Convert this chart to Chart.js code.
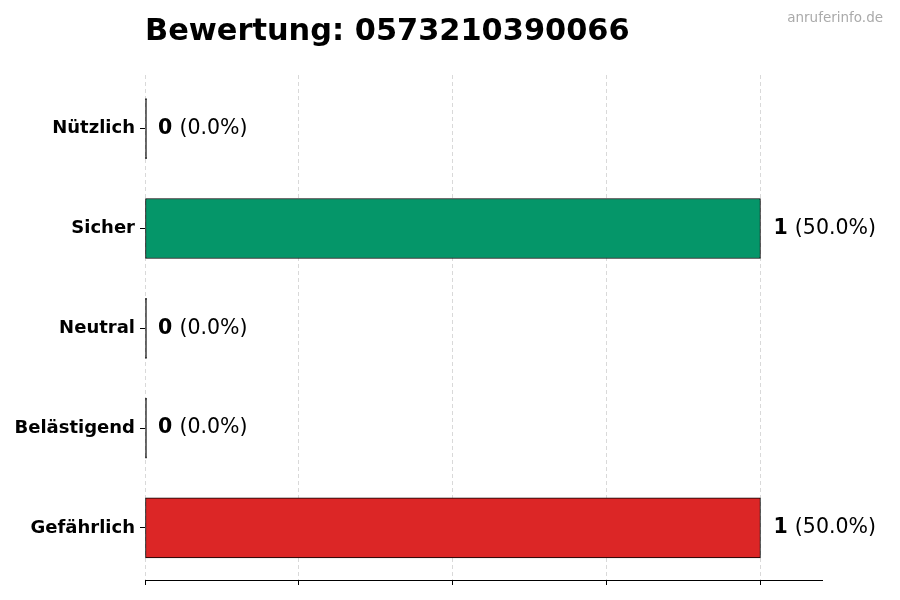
<!DOCTYPE html>
<html>
<head>
<meta charset="utf-8">
<script src="https://cdn.jsdelivr.net/npm/chart.js@4"></script>
<style>
  html, body { margin: 0; padding: 0; background: #fff; }
</style>
</head>
<body>
<canvas id="barChart" width="900" height="600"></canvas>
<script>
const titleText = 'Bewertung: 0573210390066';
const categories = ['Nützlich', 'Sicher', 'Neutral', 'Belästigend', 'Gefährlich'];
const counts = [0, 1, 0, 0, 1];
const barColors = ['#16a34a', '#059669', '#9ca3af', '#f59e0b', '#dc2626'];
const gridTicks = [0, 0.25, 0.5, 0.75, 1];

const total = counts.reduce((a, b) => a + b, 0);

// Title, watermark and value labels
const labelsPlugin = {
  id: 'labels',
  afterDatasetsDraw(chart) {
    const ctx = chart.ctx;
    const meta = chart.getDatasetMeta(0);
    ctx.save();
    ctx.textBaseline = 'middle';
    meta.data.forEach((bar, i) => {
      const pct = total ? (counts[i] / total * 100).toFixed(1) : '0.0';
      const x0 = chart.scales.x.getPixelForValue(counts[i]) + 13;
      ctx.font = 'bold 20.5px "DejaVu Sans"';
      ctx.fillStyle = '#000';
      ctx.textAlign = 'left';
      const v = String(counts[i]);
      ctx.fillText(v, x0, bar.y);
      const w = ctx.measureText(v + ' ').width;
      ctx.font = '20.5px "DejaVu Sans"';
      ctx.fillText('(' + pct + '%)', x0 + w, bar.y);
    });
    ctx.restore();
  },
  afterDraw(chart) {
    const ctx = chart.ctx;
    ctx.save();
    ctx.textBaseline = 'alphabetic';
    ctx.textAlign = 'left';
    ctx.fillStyle = '#000';
    ctx.font = 'bold 30.4px "DejaVu Sans"';
    ctx.fillText(titleText, 145, 40);
    ctx.textAlign = 'right';
    ctx.fillStyle = '#aaa';
    ctx.font = '13.5px "DejaVu Sans"';
    ctx.fillText('anruferinfo.de', 883, 22);
    ctx.restore();
  }
};

new Chart(document.getElementById('barChart'), {
  type: 'bar',
  data: {
    datasets: [{
      data: counts.map((v, i) => ({ x: v, y: i })),
      backgroundColor: c => counts[c.dataIndex] ? barColors[c.dataIndex] : '#000',
      borderColor: '#000',
      borderWidth: 1,
      borderSkipped: false,
      barThickness: 60,
      minBarLength: 1.5
    }]
  },
  options: {
    indexAxis: 'y',
    responsive: false,
    animation: false,
    layout: { padding: { top: 75, right: 78, bottom: 0, left: 0 } },
    plugins: {
      legend: { display: false },
      tooltip: { enabled: false }
    },
    scales: {
      x: {
        type: 'linear',
        min: 0,
        max: 1.1,
        afterBuildTicks: s => { s.ticks = gridTicks.map(v => ({ value: v })); },
        afterFit: s => { s.height = 20; },
        ticks: { callback: () => '' },
        grid: { color: '#d9d9d9', lineWidth: 1, tickColor: '#000', tickLength: 5 },
        border: { display: true, color: '#000', width: 1, dash: [4, 3] }
      },
      y: {
        type: 'linear',
        min: -0.538,
        max: 4.522,
        reverse: true,
        offset: false,
        afterBuildTicks: s => { s.ticks = categories.map((c, i) => ({ value: i })); },
        afterFit: s => { s.width = 145; },
        ticks: {
          callback: v => categories[v],
          color: '#000',
          padding: 5,
          font: { family: 'DejaVu Sans', size: 18, weight: 'bold' }
        },
        grid: { offset: false, drawOnChartArea: false, tickColor: '#000', tickLength: 5 },
        border: { display: false }
      }
    }
  },
  plugins: [labelsPlugin]
});
</script>
</body>
</html>
